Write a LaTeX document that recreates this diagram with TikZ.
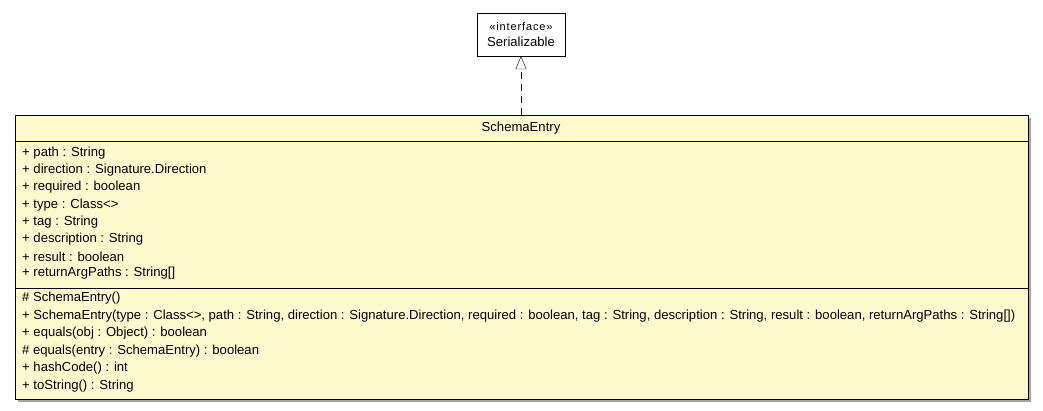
\documentclass[tikz,border=0pt]{standalone}
\usepackage{fontspec}
\setmainfont{Liberation Sans}
\usetikzlibrary{arrows.meta}
\definecolor{classfill}{HTML}{FFF9CF}

\begin{document}
\begin{tikzpicture}[x=1pt,y=-1pt,font=\fontsize{13.1}{15}\selectfont]
    \tikzset{iface/.style={draw,fill=white,minimum width=88pt,minimum height=43pt,align=center,inner sep=0pt},
             member/.style={anchor=west,inner sep=0pt},
             realize/.style={dashed,dash pattern=on 7pt off 5pt,-{Triangle[open,length=13pt,width=11pt]}}}
    \useasboundingbox (0,0) rectangle (1043,411);
    \node[iface] (serial) at (521,34.5) {{\fontsize{11}{13}\selectfont\addfontfeature{LetterSpace=8}\guillemotleft interface\guillemotright}\\[1pt]Serializable};
    % class box with its shadow
    \fill[gray!70] (18,118) rectangle (1031,402);
    \draw[fill=classfill] (15,115) coordinate (nw) rectangle (1028,399) coordinate (se);
    \coordinate (entrytop) at (521,115);
    \draw (15,141) -- (1028,141);
    \draw (15,288) -- (1028,288);
    \node (entry) at (521,128) {SchemaEntry};
    \foreach \t [count=\i] in {+ path : String,
                                + direction : Signature.Direction,
                                + required : boolean,
                                + type : Class<>,
                                + tag : String,
                                + description : String,
                                + result : boolean,
                                + returnArgPaths : String[]}
        \node[member] (attr\i) at (22,136+17.2*\i) {\t};
    \node[member] (op1) at (22,298) {\# SchemaEntry()};
    \node[member] (op2) at (22,316) {+ SchemaEntry(type : Class<>, path : String, direction : Signature.Direction, required : boolean, tag : String, description : String, result : boolean, returnArgPaths : String[])};
    \node[member] (op3) at (22,333) {+ equals(obj : Object) : boolean};
    \node[member] (op4) at (22,351) {\# equals(entry : SchemaEntry) : boolean};
    \node[member] (op5) at (22,368) {+ hashCode() : int};
    \node[member] (op6) at (22,386) {+ toString() : String};
    \draw[realize] (entrytop) -- (serial);
\end{tikzpicture}
\end{document}
